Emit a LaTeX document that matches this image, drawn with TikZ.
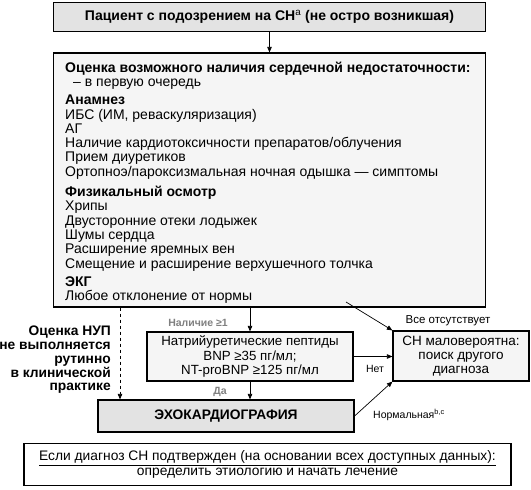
\documentclass[tikz,border=0pt]{standalone}
\usepackage{fontspec}
\setmainfont{Liberation Sans}
\usetikzlibrary{arrows.meta,calc}

\begin{document}
\begin{tikzpicture}[x=1pt,y=-1pt,
    box/.style={draw, line width=1.2pt, align=center, inner sep=0pt},
    arr/.style={-{Triangle[length=5.5pt,width=4.5pt]}, line width=0.7pt},
    lbl/.style={font=\fontsize{10}{12}\selectfont, inner sep=0pt}]
    \useasboundingbox (0,0) rectangle (531,490);
    \node[box, fill=gray!22, minimum width=432pt, minimum height=29pt,
          font=\bfseries\fontsize{14}{14}\selectfont] (patient) at (269.5,17)
          {Пациент с подозрением на СН\textsuperscript{\mdseries a} (не остро возникшая)};
    \node[box, fill=gray!8, minimum width=432pt, minimum height=254pt] (eval) at (269.5,180) {};
    \node[anchor=north west, align=left, inner sep=0pt,
          font=\fontsize{14}{14.3}\selectfont] (evaltxt) at (65,61.5)
          {\textbf{Оценка возможного наличия сердечной недостаточности:}\\
           \hspace*{8pt}– в первую очередь\\[4pt]
           \textbf{Анамнез}\\
           ИБС (ИМ, реваскуляризация)\\
           АГ\\
           Наличие кардиотоксичности препаратов/облучения\\
           Прием диуретиков\\
           Ортопноэ/пароксизмальная ночная одышка — симптомы\\[6pt]
           \textbf{Физикальный осмотр}\\
           Хрипы\\
           Двусторонние отеки лодыжек\\
           Шумы сердца\\
           Расширение яремных вен\\
           Смещение и расширение верхушечного толчка\\[4pt]
           \textbf{ЭКГ}\\
           Любое отклонение от нормы};
    \node[box, fill=gray!8, minimum width=206pt, minimum height=49pt,
          font=\fontsize{13.3}{14.3}\selectfont] (np) at (250,356.5)
          {Натрийуретические пептиды\\BNP ≥35 пг/мл;\\NT-proBNP ≥125 пг/мл};
    \node[box, fill=gray!8, minimum width=136pt, minimum height=50pt,
          font=\fontsize{13.5}{13.8}\selectfont] (rare) at (461,356)
          {СН маловероятна:\\поиск другого\\диагноза};
    \node[box, fill=gray!22, minimum width=256pt, minimum height=32pt,
          font=\bfseries\fontsize{13.8}{14}\selectfont] (echo) at (226,416) {ЭХОКАРДИОГРАФИЯ};
    \node[box, fill=white, minimum width=487pt, minimum height=42pt,
          font=\fontsize{13.8}{14.5}\selectfont] (final) at (267.5,464.5)
          {\underline{Если диагноз СН подтвержден (на основании всех доступных данных):}\\
           определить этиологию и начать лечение};
    % connectors
    \coordinate (dash) at (120,307);
    \coordinate (evalout) at (346,302);
    \draw[arr] (patient.south) -- (eval.north);
    \draw[arr] (eval.south -| np.north) -- (np.north);
    \draw[arr] (np.south) -- (echo.north -| np.south);
    \draw[arr] (np.east) -- (np.east -| rare.west);
    \draw[arr, dashed] (eval.south -| dash) -- (echo.north -| dash);
    \draw[arr] (evalout) -- (rare.north west);
    \draw[arr] (echo.east) -- (rare.south west);
    % labels
    \node[lbl, font=\bfseries\fontsize{10.5}{12}\selectfont, text=gray] (yes1) at (198,323) {Наличие ≥1};
    \node[lbl, font=\bfseries\fontsize{10.5}{12}\selectfont, text=gray] (yes2) at (220,392) {Да};
    \node[lbl, font=\fontsize{11.5}{12}\selectfont] (absent) at (448,321) {Все отсутствует};
    \node[lbl, font=\fontsize{10.5}{12}\selectfont] (no) at (375,369) {Нет};
    \node[lbl, anchor=west, font=\fontsize{10.5}{12}\selectfont] (normal) at (373,415) {Нормальная\textsuperscript{b,c}};
    \node[anchor=east, align=right, inner sep=0pt,
          font=\bfseries\fontsize{13.8}{13.8}\selectfont] (note) at (111,360)
          {Оценка НУП\\не выполняется\\рутинно\\в клинической\\практике};
\end{tikzpicture}
\end{document}
